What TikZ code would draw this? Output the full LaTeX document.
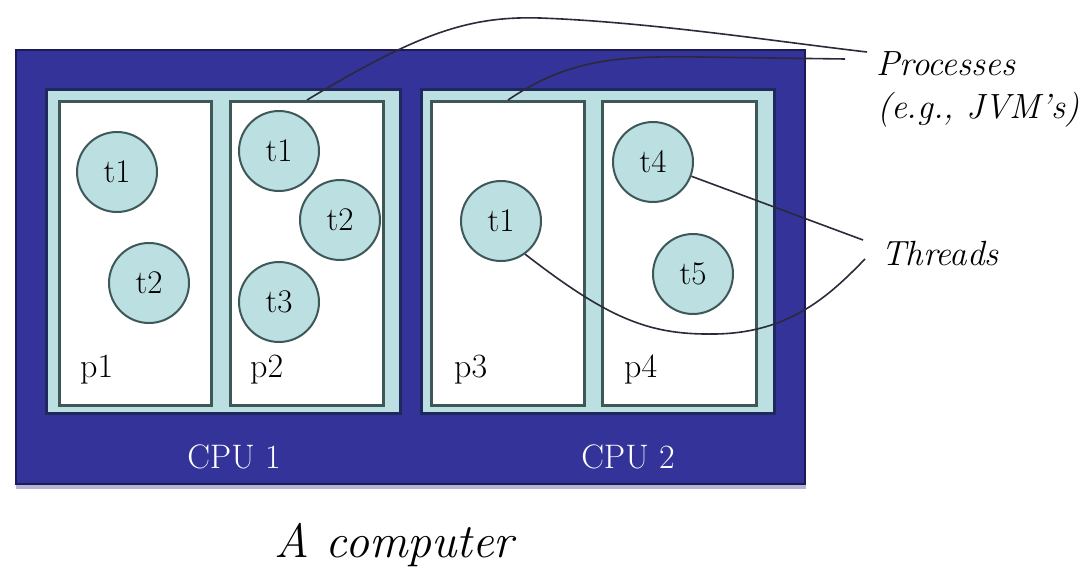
\documentclass[tikz,border=0pt]{standalone}
\definecolor{cpublue}{HTML}{333399}
\definecolor{cpuedge}{HTML}{1C1C52}
\definecolor{cpushade}{HTML}{B4B4D6}
\definecolor{panelfill}{HTML}{BCDFE2}
\definecolor{paneledge}{HTML}{1E2A5E}
\definecolor{procedge}{HTML}{3E5858}
\definecolor{leader}{HTML}{2A2A3A}
\begin{document}
\begin{tikzpicture}[x=1pt,y=-1pt,
  computer/.style={fill=cpublue,draw=cpuedge,line width=2pt},
  cpupanel/.style={fill=panelfill,draw=paneledge,line width=3pt},
  procbox/.style={fill=white,draw=procedge,line width=3pt},
  thread/.style={circle,fill=panelfill,draw=procedge,line width=2pt,
    minimum size=80pt,inner sep=0pt,font=\fontsize{33}{36}\selectfont},
  plabel/.style={anchor=base west,inner sep=0pt,font=\fontsize{34}{38}\selectfont},
  cpulabel/.style={anchor=base,inner sep=0pt,text=white,font=\fontsize{34}{38}\selectfont},
  note/.style={anchor=base west,inner sep=0pt,font=\fontsize{35}{40}\selectfont\itshape},
  leaderline/.style={draw=leader,line width=1.6pt}]
\useasboundingbox (0,0) rectangle (1083,570);

% the computer
\fill[cpushade] (16,483) rectangle (806,489);
\path[computer] (16,50) rectangle (805,484);

% CPU panels
\path[cpupanel] (46,89) rectangle (400,413);
\path[cpupanel] (421,89) rectangle (774,413);

% process boxes
\node[procbox,minimum width=152pt,minimum height=304pt,inner sep=0pt,anchor=north west] (p1) at (58,100) {};
\node[procbox,minimum width=153pt,minimum height=304pt,inner sep=0pt,anchor=north west] (p2) at (229,100) {};
\node[procbox,minimum width=153pt,minimum height=304pt,inner sep=0pt,anchor=north west] (p3) at (430,100) {};
\node[procbox,minimum width=154pt,minimum height=304pt,inner sep=0pt,anchor=north west] (p4) at (601,100) {};

% process labels
\node[plabel] (lp1) at (80,377) {p1};
\node[plabel] (lp2) at (250,377) {p2};
\node[plabel] (lp3) at (454,377) {p3};
\node[plabel] (lp4) at (624,377) {p4};

% threads
\node[thread] (p1t1) at (117,172) {t1};
\node[thread] (p1t2) at (149,283) {t2};
\node[thread] (p2t1) at (279,151) {t1};
\node[thread] (p2t2) at (340,220) {t2};
\node[thread] (p2t3) at (279,302) {t3};
\node[thread] (p3t1) at (501,221) {t1};
\node[thread] (p4t4) at (653,162) {t4};
\node[thread] (p4t5) at (693,274) {t5};

% CPU labels
\node[cpulabel] (cpu1) at (234,468) {CPU 1};
\node[cpulabel] (cpu2) at (628,468) {CPU 2};

% side notes
\node[note] (procs) at (876,75) {Processes};
\node[note] (jvms) at (877,118) {(e.g., JVM's)};
\node[note] (threads) at (881,265) {Threads};
\node[anchor=base,inner sep=0pt,font=\fontsize{48}{52}\selectfont\itshape] (comp) at (394,557) {A computer};

% leader end points
\coordinate (procA) at (867,52);
\coordinate (procB) at (845,59);
\coordinate (thrA) at (863,240);
\coordinate (thrB) at (865,259);

% leaders to the processes
\draw[leaderline] (p2.north) .. controls (420,32) and (470,16) .. (540,18)
  .. controls (650,22) and (780,42) .. (procA);
\draw[leaderline] (p3.north) .. controls (570,58) and (620,56) .. (700,57) -- (procB);

% leaders to the threads
\draw[leaderline] (p4t4) -- (thrA);
\draw[leaderline] (p3t1.-54) .. controls (610,320) and (650,335) .. (715,334)
  .. controls (790,333) and (830,295) .. (thrB);
\end{tikzpicture}
\end{document}
